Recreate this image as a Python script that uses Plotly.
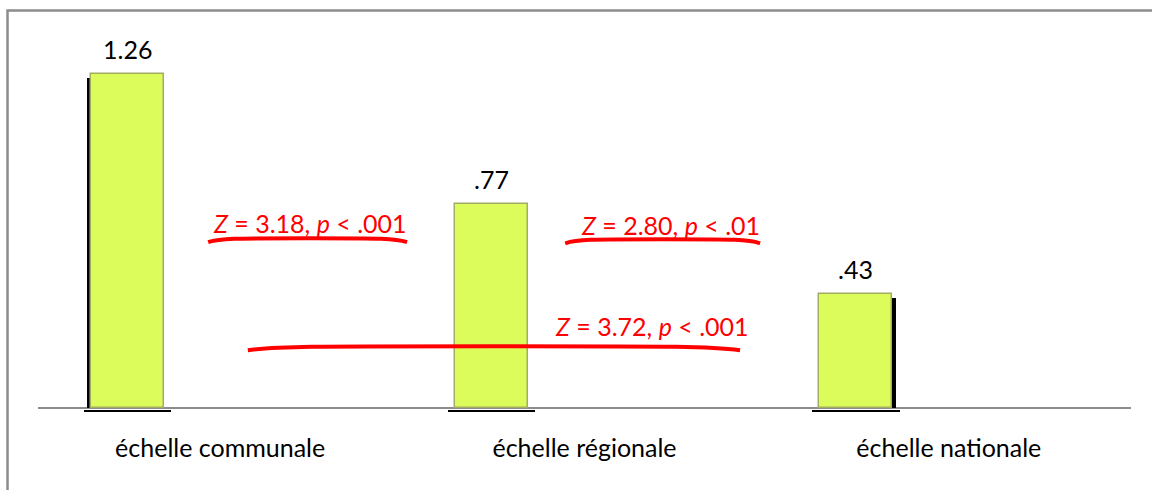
import plotly.graph_objects as go

categories = ["échelle communale", "échelle régionale", "échelle nationale"]
values = [1.26, 0.77, 0.43]

# pairwise comparisons
cmp_z = [3.18, 2.80, 3.72]
cmp_p = [".001", ".01", ".001"]

FONT = "Lato"
FS = 25
RED = "#ff0000"
BAR = "#dcfc5c"

x = list(range(len(categories)))
labels = [f"{v:.2f}".lstrip("0") for v in values]

fig = go.Figure()
# side shadows (3D effect)
fig.add_trace(go.Bar(x=x, y=[v - 0.015 for v in values], offset=[-0.366, -0.355, -0.344], width=0.2,
                     marker=dict(color="black", line=dict(width=0)), hoverinfo="skip", showlegend=False))
# bottom shadow line under each bar
fig.add_trace(go.Bar(x=x, y=[0.007] * len(x), base=[-0.015] * len(x),
                     offset=-0.375, width=0.24, marker=dict(color="black", line=dict(width=0)),
                     hoverinfo="skip", showlegend=False))
fig.add_trace(go.Bar(x=x, y=values, offset=-0.355, width=0.2,
                     marker=dict(color=BAR, line=dict(color="#a3ad62", width=1.5)),
                     showlegend=False))

for xi, v, lab in zip(x, values, labels):
    fig.add_annotation(x=xi - 0.255, y=v, text=lab, showarrow=False, yshift=25,
                       font=dict(family=FONT, size=FS, color="black"))

# comparison annotations: (text x, text y, arc x0, arc x1, arc y)
cmp_layout = [(0.247, 0.698, -0.033, 0.513, 0.634),
              (1.237, 0.691, 0.947, 1.482, 0.630),
              (1.185, 0.310, 0.076, 1.427, 0.226)]
for (tx, ty, ax0, ax1, ay), z, p in zip(cmp_layout, cmp_z, cmp_p):
    fig.add_annotation(x=tx, y=ty, text=f"<i>Z</i> = {z:.2f}, <i>p</i> &lt; {p}", showarrow=False,
                       font=dict(family=FONT, size=FS, color=RED))
    d = (ax1 - ax0) * 0.06
    fig.add_shape(type="path", xref="x", yref="y",
                  path=(f"M {ax0},{ay - 0.009} C {ax0 + d},{ay + 0.006} {ax0 + 2 * d},{ay + 0.006} {(ax0 + ax1) / 2},{ay + 0.006} "
                        f"S {ax1 - d},{ay + 0.006} {ax1},{ay - 0.009}"),
                  line=dict(color=RED, width=4), layer="above")

# outer frame
fig.add_shape(type="rect", xref="paper", yref="paper", x0=-0.0279, y0=-0.6, x1=1.2, y1=1.0704,
              line=dict(color="#8c8c8c", width=2.5), fillcolor="rgba(0,0,0,0)")

fig.update_layout(
    width=1152, height=490,
    margin=dict(l=38, r=21, t=37, b=77),
    paper_bgcolor="white", plot_bgcolor="white",
    bargap=0,
    xaxis=dict(range=[-0.5, 2.5], tickvals=x, ticktext=categories, showgrid=False, zeroline=False,
               showline=False, ticks="",
               ticklabelstandoff=18,
               tickfont=dict(family=FONT, size=FS, color="black")),
    yaxis=dict(range=[-0.02, 1.4], showgrid=False, showticklabels=False, ticks="",
               zeroline=True, zerolinecolor="#8c8c8c", zerolinewidth=2),
)

fig.write_html("out.html", config={"displayModeBar": False},
               post_script="document.body.style.margin='0';document.body.style.overflow='hidden';")
